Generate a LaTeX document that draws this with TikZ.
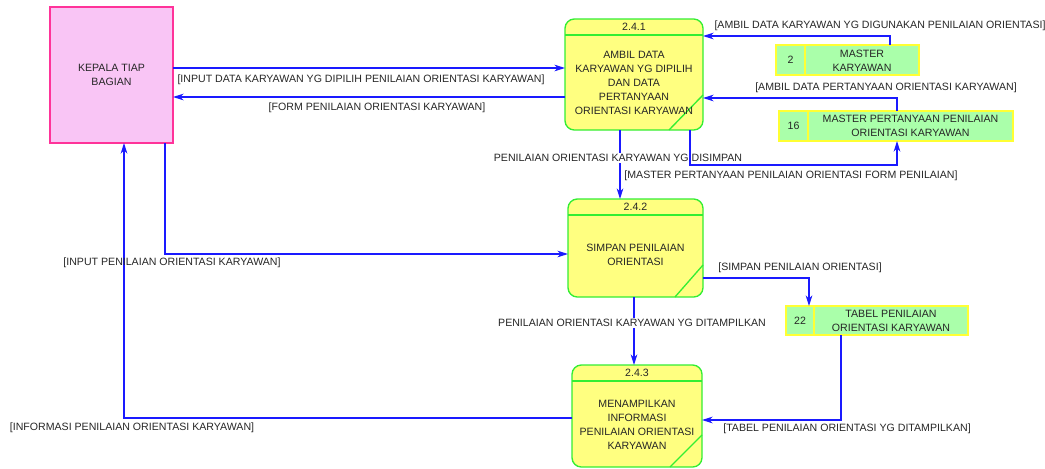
\documentclass[tikz,border=0pt]{standalone}
\usepackage{fontspec}
\setmainfont{Liberation Sans}
\usetikzlibrary{arrows.meta,calc}
\definecolor{kfill}{HTML}{F9C5F5}
\definecolor{kdraw}{HTML}{FF3399}
\definecolor{pfill}{HTML}{FFFF80}
\definecolor{pdraw}{HTML}{33EE33}
\definecolor{dfill}{HTML}{AAFFAA}
\definecolor{ddraw}{HTML}{FFFF33}
\definecolor{flowc}{HTML}{1A1AFF}
\begin{document}
\begin{tikzpicture}[x=0.75pt,y=-0.75pt,
  every node/.style={font=\fontsize{7.95}{10.6}\selectfont, text=black!85, inner sep=0pt, outer sep=0pt},
  entity/.style={draw=kdraw, fill=kfill, line width=1.2pt, minimum width=92.25pt, minimum height=102pt, align=center},
  proc/.style={draw=pdraw, fill=pfill, line width=1pt, rounded corners=7pt},
  pline/.style={draw=pdraw, line width=1pt},
  store/.style={draw=ddraw, fill=dfill, line width=1.2pt, minimum height=22.5pt},
  sline/.style={draw=ddraw, line width=1.2pt},
  txt/.style={align=center},
  flow/.style={draw=flowc, line width=0.8pt, -{Stealth[length=8pt,width=5pt,inset=2.5pt]}},
  wlbl/.style={fill=white, inner xsep=1pt, inner ysep=1pt},
]
\useasboundingbox (0,0) rectangle (1045,468);

% external entity
\node[entity] (kep) at (111.5,75) {KEPALA TIAP\\BAGIAN};

% process 2.4.1
\node[proc, minimum width=103.5pt, minimum height=83.25pt] (p1) at (634,74.5) {};
\draw[pline] (p1.west |- 0,35) -- (p1.east |- 0,35);
\draw[pline] (p1.south -| 669,0) -- (p1.east |- 0,95);
\node (p1n) at (634,27) {2.4.1};
\node[txt] (p1t) at (634,83) {AMBIL DATA\\KARYAWAN YG DIPILIH\\DAN DATA\\PERTANYAAN\\ORIENTASI KARYAWAN};

% process 2.4.2
\node[proc, minimum width=101.25pt, minimum height=73.5pt] (p2) at (635.5,248) {};
\draw[pline] (p2.west |- 0,215) -- (p2.east |- 0,215);
\draw[pline] (p2.south -| 675,0) -- (p2.east |- 0,265);
\node (p2n) at (635.5,207) {2.4.2};
\node[txt] (p2t) at (635.5,255) {SIMPAN PENILAIAN\\ORIENTASI};

% process 2.4.3
\node[proc, minimum width=97.5pt, minimum height=76.5pt] (p3) at (637,416) {};
\draw[pline] (p3.west |- 0,381) -- (p3.east |- 0,381);
\draw[pline] (p3.south -| 670,0) -- (p3.east |- 0,435);
\node (p3n) at (637,373) {2.4.3};
\node[txt] (p3t) at (637,425) {MENAMPILKAN\\INFORMASI\\PENILAIAN ORIENTASI\\KARYAWAN};

% data stores
\node[store, minimum width=107.25pt] (ds2) at (847.5,60) {};
\draw[sline] (ds2.north -| 805,0) -- (ds2.south -| 805,0);
\node (ds2n) at (790.5,60) {2};
\node[txt] (ds2t) at (862,61) {MASTER\\KARYAWAN};

\node[store, minimum width=175.5pt] (ds16) at (896,126) {};
\draw[sline] (ds16.north -| 808,0) -- (ds16.south -| 808,0);
\node (ds16n) at (793.5,126) {16};
\node[txt] (ds16t) at (910.5,125.5) {MASTER PERTANYAAN PENILAIAN\\ORIENTASI KARYAWAN};

\node[store, minimum width=136.5pt, minimum height=21.75pt] (ds22) at (877,320.5) {};
\draw[sline] (ds22.north -| 814,0) -- (ds22.south -| 814,0);
\node (ds22n) at (800,321) {22};
\node[txt] (ds22t) at (891,320.5) {TABEL PENILAIAN\\ORIENTASI KARYAWAN};

% flows
\draw[flow] (kep.east |- 0,68) -- (p1.west |- 0,68);
\draw[flow] (p1.west |- 0,97) -- (kep.east |- 0,97);
\draw[flow] (ds2.north -| 890,0) |- (p1.east |- 0,36);
\draw[flow] (ds16.north -| 897,0) |- (p1.east |- 0,98);
\draw[flow] (p1.south -| 620,0) -- (p2.north -| 620,0);
\draw[flow] (kep.south -| 165,0) |- (p2.west |- 0,254);
\draw[flow] (p3.west |- 0,418) -| (kep.south -| 124,0);
\draw[flow] (p2.east |- 0,278) -| (ds22.north -| 809,0);
\draw[flow] (p2.south -| 634,0) -- (p3.north -| 634,0);
\draw[flow] (ds22.south -| 841,0) |- (p3.east |- 0,420);

% labels
\node (l1) at (361,80) {[INPUT DATA KARYAWAN YG DIPILIH PENILAIAN ORIENTASI KARYAWAN]};
\node (l2) at (377,108) {[FORM PENILAIAN ORIENTASI KARYAWAN]};
\node (l3) at (880,26) {[AMBIL DATA KARYAWAN YG DIGUNAKAN PENILAIAN ORIENTASI]};
\node (l4) at (886,88) {[AMBIL DATA PERTANYAAN ORIENTASI KARYAWAN]};
\node (l5) at (791,176) {[MASTER PERTANYAAN PENILAIAN ORIENTASI FORM PENILAIAN]};
\node[wlbl] (l6) at (618,158) {PENILAIAN ORIENTASI KARYAWAN YG DISIMPAN};
\node (l7) at (172,263) {[INPUT PENILAIAN ORIENTASI KARYAWAN]};
\node (l8) at (132,428) {[INFORMASI PENILAIAN ORIENTASI KARYAWAN]};
\node (l9) at (800,268) {[SIMPAN PENILAIAN ORIENTASI]};
\node[wlbl] (l10) at (632,323) {PENILAIAN ORIENTASI KARYAWAN YG DITAMPILKAN};
\node (l11) at (847,429) {[TABEL PENILAIAN ORIENTASI YG DITAMPILKAN]};

% flow drawn over its crossing label
\draw[flow] (p1.south -| 690,0) -- (690,165) -| (ds16.south -| 897,0);
\end{tikzpicture}
\end{document}
